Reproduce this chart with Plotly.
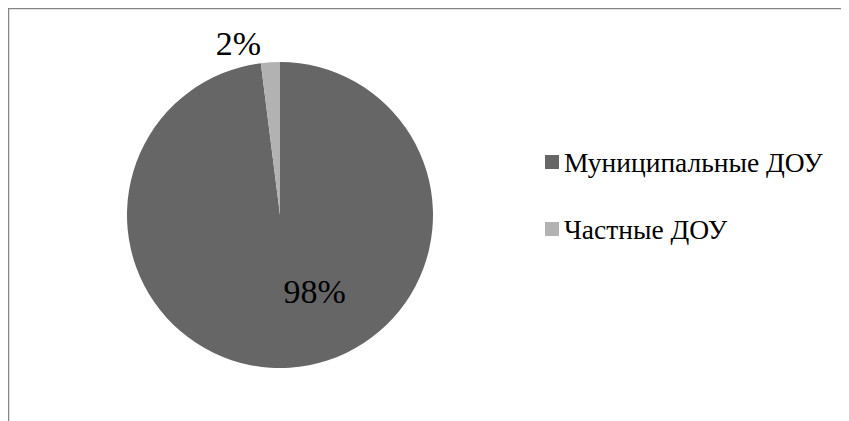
import plotly.graph_objects as go

labels = ["Муниципальные ДОУ", "Частные ДОУ"]
values = [98, 2]
colors = ["#666666", "#b2b2b2"]
text_pos = ["inside", "outside"]

FONT = "Liberation Serif, Times New Roman, DejaVu Serif, serif"
W, H = 849, 421
OFF = 8  # page offset of the figure in the browser
cx, cy, r = 280 - OFF, 215 - OFF, 153

NB = "\u00a0"
templates = [NB * 7 + "%{percent:.0%}", NB * 6 + "%{percent:.0%}"]

fig = go.Figure(go.Pie(
    labels=labels, values=values, sort=False, direction="clockwise", rotation=0,
    marker=dict(colors=colors, line=dict(width=0)),
    texttemplate=templates,
    textposition=text_pos,
    textfont=dict(family=FONT, size=34, color="#000000"),
    insidetextorientation="horizontal",
    automargin=False,
    showlegend=False,
    domain=dict(x=[(cx - r) / W, (cx + r) / W], y=[(H - cy - r) / H, (H - cy + r) / H]),
    hoverinfo="label+percent",
))

shapes = [
    dict(type="line", xref="paper", yref="paper", x0=0, x1=1, y0=1 - 0.5 / H, y1=1 - 0.5 / H,
         line=dict(color="#868686", width=1.5)),
    dict(type="line", xref="paper", yref="paper", x0=0.5 / W, x1=0.5 / W, y0=0, y1=1,
         line=dict(color="#868686", width=1.5)),
]
annotations = []
leg_y = [162 - OFF, 229 - OFF]
for lab, col, ly in zip(labels, colors, leg_y):
    shapes.append(dict(type="rect", xref="paper", yref="paper",
                       x0=(545 - OFF) / W, x1=(559 - OFF) / W, y0=1 - (ly + 7) / H, y1=1 - (ly - 7) / H,
                       fillcolor=col, line=dict(width=0)))
    annotations.append(dict(text=lab, xref="paper", yref="paper", x=(562 - OFF) / W, y=1 - ly / H,
                            xanchor="left", yanchor="middle", showarrow=False,
                            font=dict(family=FONT, size=27.5, color="#000000")))

fig.update_layout(
    width=W, height=H, margin=dict(l=0, r=0, t=0, b=0, autoexpand=False),
    paper_bgcolor="white", plot_bgcolor="white",
    shapes=shapes, annotations=annotations,
)
fig.write_html("out.html")
